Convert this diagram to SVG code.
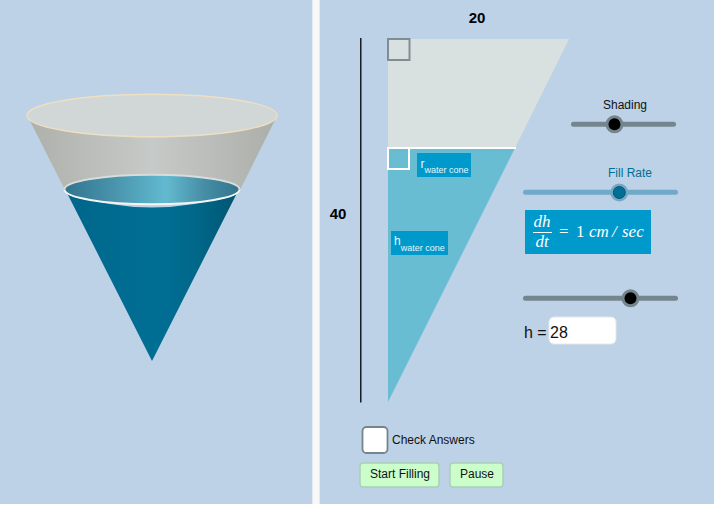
<svg xmlns="http://www.w3.org/2000/svg" width="714" height="506" viewBox="0 0 714 506">
<defs>
<linearGradient id="gc" x1="0" x2="1" y1="0" y2="0"><stop offset="0" stop-color="#aeb0aa"/><stop offset=".5" stop-color="#c6cac8"/><stop offset="1" stop-color="#acaea8"/></linearGradient>
<linearGradient id="wc" x1="0" x2="1" y1="0" y2="0"><stop offset="0" stop-color="#00658a"/><stop offset=".25" stop-color="#006b90"/><stop offset=".55" stop-color="#006e94"/><stop offset=".75" stop-color="#00688a"/><stop offset="1" stop-color="#005673"/></linearGradient>
<linearGradient id="ws" x1="0" x2="1" y1="0" y2="0"><stop offset="0" stop-color="#33748f"/><stop offset=".25" stop-color="#4690a8"/><stop offset=".5" stop-color="#5bb0c6"/><stop offset=".58" stop-color="#63bad0"/><stop offset=".8" stop-color="#458da5"/><stop offset="1" stop-color="#33748f"/></linearGradient>
</defs>
<style>
text{font-family:"Liberation Sans",Arial,sans-serif}
.tr{stroke:#75858e;stroke-width:5;stroke-linecap:round}
.btn{fill:#ccfecc;stroke:#a9d0b4;stroke-width:1.5}
.bt{font-size:12px;fill:#111;text-anchor:middle}
.lab{fill:#0099cc}
.w{fill:#e8f6fb}
.m{font-family:"Liberation Serif",serif;font-style:italic;fill:#fff;font-size:17px}
.n{font-style:normal}
</style>
<rect width="714" height="506" fill="#bdd2e6"/>
<rect x="312" y="0" width="8" height="504" fill="#e4ebf0"/>
<rect x="313" y="0" width="6" height="504" fill="#f8f8f8"/>
<rect x="0" y="504" width="714" height="2" fill="#fff"/>
<g id="cone">
<path d="M27 115 L65 190 A87 15 0 0 0 240 190 L277.500 115 Z" fill="url(#gc)"/>
<path d="M67 193 Q152 222 237 193 L152 361 Z" fill="url(#wc)"/>
<ellipse cx="152" cy="115.500" rx="125" ry="21.300" fill="#d1d6d6" stroke="#efdfc2" stroke-width="1.400"/>
<ellipse cx="152" cy="189.500" rx="87.500" ry="14.700" fill="url(#ws)"/>
<path d="M64.500 189.500 A87.500 14.700 0 0 1 239.500 189.500" fill="none" stroke="#d8dcda" stroke-width="2"/>
<path d="M64.500 189.500 A87.500 14.700 0 0 0 239.500 189.500" fill="none" stroke="#f4f5f2" stroke-width="2"/>
</g>
<g id="triangle">
<path d="M388 39 H569 L515 148 H388 Z" fill="#d9e1e0"/>
<path d="M388 148 H515 L388 402 Z" fill="#69bdd2"/>
<line x1="388" y1="148" x2="516" y2="148" stroke="#fff" stroke-width="2"/>
<rect x="388" y="39" width="21.500" height="21" fill="none" stroke="#7f8e94" stroke-width="2"/>
<rect x="388" y="148" width="21" height="21" fill="none" stroke="#fff" stroke-width="2"/>
<line x1="360.800" y1="38" x2="360.800" y2="402.500" stroke="#000" stroke-width="1.300"/>
<text x="477" y="23" font-size="15" font-weight="bold" text-anchor="middle">20</text>
<text x="338" y="219" font-size="15" font-weight="bold" text-anchor="middle">40</text>
</g>
<g id="r-label">
<rect class="lab" x="417" y="153" width="54" height="24"/>
<text class="w" x="420.500" y="168" font-size="12">r<tspan font-size="9" dy="5">water cone</tspan></text>
</g>
<g id="h-label">
<rect class="lab" x="391" y="231" width="57" height="24"/>
<text class="w" x="394" y="245" font-size="12">h<tspan font-size="9" dy="6">water cone</tspan></text>
</g>
<g id="shading">
<text x="625" y="109" font-size="12" text-anchor="middle" fill="#111">Shading</text>
<line class="tr" x1="573.500" y1="124.300" x2="673.500" y2="124.300"/>
<circle cx="614.500" cy="124.300" r="9" fill="#75858e"/>
<circle cx="614.500" cy="124.300" r="6" fill="#000"/>
</g>
<g id="fill-rate">
<text x="630" y="177" font-size="12" text-anchor="middle" fill="#006f95">Fill Rate</text>
<line class="tr" x1="525.500" y1="192.300" x2="675.500" y2="192.300" style="stroke:#71a9c8"/>
<circle cx="619.300" cy="192.500" r="9" fill="#71a9c8"/>
<circle cx="619.300" cy="192.500" r="6" fill="#006f95" stroke="#1a4f66"/>
</g>
<g id="rate">
<rect class="lab" x="525" y="210" width="126" height="44"/>
<text class="m" x="533.500" y="226.500">dh</text>
<line x1="533" y1="232.500" x2="552" y2="232.500" stroke="#fff"/>
<text class="m" x="535.500" y="246.500">dt</text>
<text class="m n" x="559" y="237">=</text>
<text class="m n" x="576" y="237">1</text>
<text class="m" x="589" y="237">cm</text>
<text class="m" x="612" y="237">/</text>
<text class="m" x="622" y="237">sec</text>
</g>
<g id="h-slider">
<line class="tr" x1="525.500" y1="298.300" x2="675.500" y2="298.300"/>
<circle cx="630.500" cy="298.300" r="9" fill="#75858e"/>
<circle cx="630.500" cy="298.300" r="6" fill="#000"/>
</g>
<g id="h-input">
<text x="524" y="338" font-size="16" fill="#111">h =</text>
<rect x="549" y="317" width="67" height="27" rx="5" fill="#fff" stroke="#e4e8ea"/>
<text x="550" y="338" font-size="16" fill="#111">28</text>
</g>
<g id="check">
<rect x="362.500" y="427" width="25" height="26" rx="4" fill="#fff" stroke="#75858e" stroke-width="1.800"/>
<text x="392" y="444" font-size="12" fill="#111">Check Answers</text>
</g>
<g id="start">
<rect class="btn" x="360" y="463" width="79" height="24" rx="3"/>
<text class="bt" x="400" y="478">Start Filling</text>
</g>
<g id="pause">
<rect class="btn" x="450" y="463" width="53" height="24" rx="3"/>
<text class="bt" x="477" y="478">Pause</text>
</g>
<g id="connectors"/>
</svg>
